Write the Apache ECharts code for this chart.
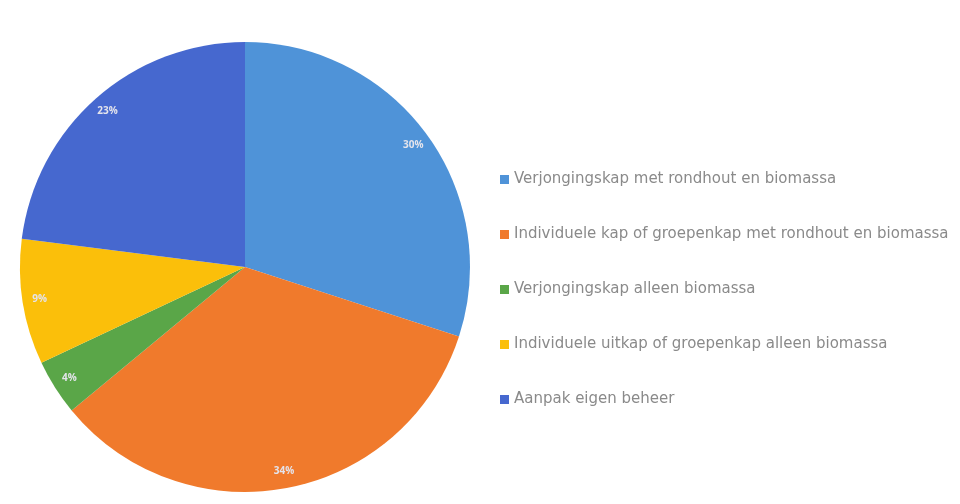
<!DOCTYPE html>
<html>
<head>
<meta charset="utf-8">
<script src="https://cdn.jsdelivr.net/npm/echarts@6/dist/echarts.min.js"></script>
<style>
  html, body { margin: 0; padding: 0; background: #fff; }
  #chart { width: 960px; height: 504px; }
</style>
</head>
<body>
<div id="chart"></div>
<script>
// categories and shares (percent)
const categories = [
  'Verjongingskap met rondhout en biomassa',
  'Individuele kap of groepenkap met rondhout en biomassa',
  'Verjongingskap alleen biomassa',
  'Individuele uitkap of groepenkap alleen biomassa',
  'Aanpak eigen beheer'
]
const shares = [30, 34, 4, 9, 23]
const colors = ['#4f93d8', '#f07a2c', '#5aa648', '#fbbf0a', '#4668cf']

const pieData = categories.map((name, i) => ({ name, value: shares[i] }))

const chart = echarts.init(document.getElementById('chart'))

chart.setOption({
  animation: false,
  color: colors,
  legend: {
    orient: 'vertical',
    left: 495,
    top: 167,
    itemWidth: 9,
    itemHeight: 9,
    itemGap: 40,
    icon: 'rect',
    data: categories,
    textStyle: {
      fontFamily: 'DejaVu Sans',
      fontSize: 15,
      color: '#8a8a8a'
    }
  },
  series: [
    {
      // main slices
      type: 'pie',
      center: [245, 267],
      radius: [0, 225],
      startAngle: 90,
      clockwise: true,
      silent: true,
      label: { show: false },
      labelLine: { show: false },
      data: pieData
    },
    {
      // ring only used to place the percentage labels near the rim
      type: 'pie',
      center: [245, 267],
      radius: [185, 225],
      startAngle: 90,
      clockwise: true,
      silent: true,
      itemStyle: { color: 'rgba(0,0,0,0)' },
      label: {
        show: true,
        position: 'inside',
        formatter: '{c}%',
        color: '#e4e4ec',
        fontFamily: 'Open Sans',
        fontWeight: 'bold',
        fontSize: 10
      },
      labelLine: { show: false },
      data: pieData
    }
  ]
})
</script>
</body>
</html>
